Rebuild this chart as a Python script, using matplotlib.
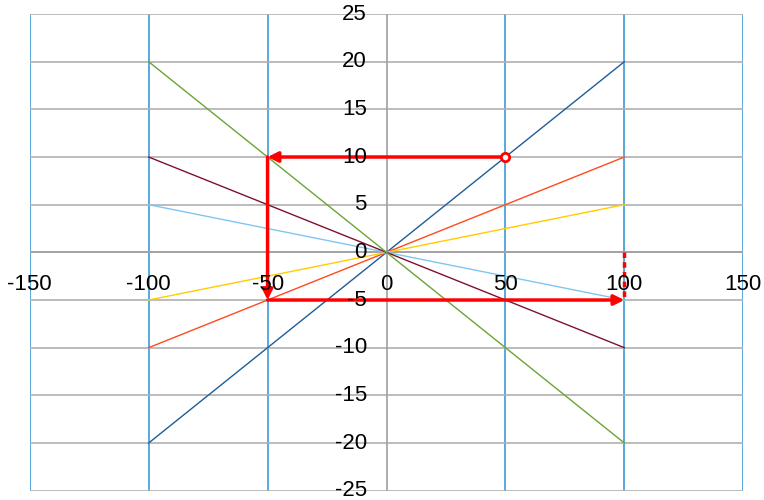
import matplotlib
matplotlib.use("Agg")
import matplotlib.pyplot as plt
import numpy as np

plt.rcParams['font.family'] = ['Liberation Sans', 'DejaVu Sans']

# Data
line_x = [-100, 100]
slopes = [0.2, 0.1, 0.05, -0.05, -0.1, -0.2]
line_colors = ['#1f5c99', '#ff4a1c', '#ffcc00', '#7fc6f0', '#7f1034', '#6aa533']
path_x = [50, -50, -50, 100]
path_y = [10, 10, -5, -5]
dash_x = [100, 100]
dash_y = [0, -5]
xticks = [-150, -100, -50, 0, 50, 100, 150]
yticks = [-25, -20, -15, -10, -5, 0, 5, 10, 15, 20, 25]

fig = plt.figure(figsize=(7.64, 5.0), dpi=100)
ax = fig.add_axes([29.7/764, 9.3/500, 713.6/764, 476.7/500])
ax.set_xlim(-150, 150)
ax.set_ylim(-25, 25)

for xt in xticks:
    if xt != 0:
        ax.axvline(xt, color='#2a93d5', lw=1.1, zorder=1)
for yt in yticks:
    ax.axhline(yt, color='#b0b0b0', lw=1.2, zorder=1)
ax.axvline(0, color='#a0a0a0', lw=1.2, zorder=1)
ax.axhline(0, color='#a0a0a0', lw=1.2, zorder=1)

for s, c in zip(slopes, line_colors):
    ax.plot(line_x, [s * x for x in line_x], color=c, lw=1.0, zorder=2)

# red path
ax.plot(path_x[0], path_y[0], 'o', ms=6, mfc='white', mec='red', mew=2, zorder=5)
for i in range(len(path_x) - 1):
    ax.annotate('', xy=(path_x[i+1], path_y[i+1]), xytext=(path_x[i], path_y[i]),
                arrowprops=dict(arrowstyle='-|>,head_length=0.6,head_width=0.3', color='red', lw=2.5,
                                shrinkA=0, shrinkB=0), zorder=4)
ax.plot(dash_x, dash_y, color='red', lw=2.5, ls=(0, (1.6, 1.2)), zorder=4)

for sp in ax.spines.values():
    sp.set_visible(False)
ax.set_xticks([])
ax.set_yticks([])

for xt in xticks:
    ax.text(xt, -3.4, str(xt), ha='center', va='center', fontsize=16, color='black', zorder=6)
for yt in yticks:
    ax.text(-8.3, yt, str(yt), ha='right', va='center', fontsize=16, color='black', zorder=6)

fig.savefig('out.png', dpi=100)
